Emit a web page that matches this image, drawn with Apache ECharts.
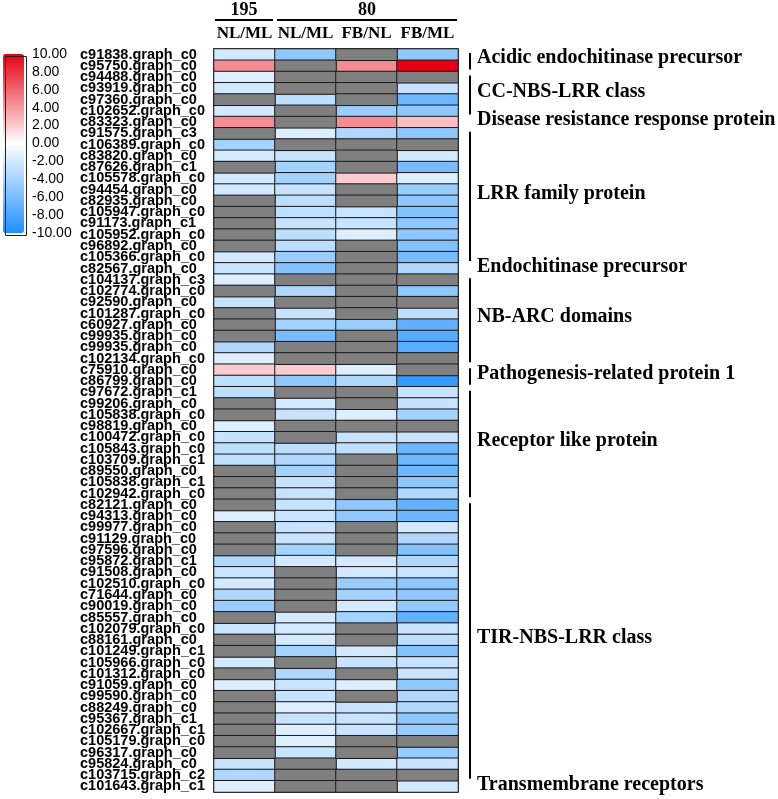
<!DOCTYPE html>
<html>
<head>
<meta charset="utf-8">
<script src="https://cdn.jsdelivr.net/npm/echarts@6/dist/echarts.min.js"></script>
<style>
  html, body { margin: 0; padding: 0; background: #fff; }
  #chart { width: 778px; height: 799px; }
</style>
</head>
<body>
<div id="chart"></div>
<script>
// gene ids, top to bottom
const genes = [
  'c91838.graph_c0', 'c95750.graph_c0', 'c94488.graph_c0', 'c93919.graph_c0', 'c97360.graph_c0',
  'c102652.graph_c0', 'c83323.graph_c0', 'c91575.graph_c3', 'c106389.graph_c0', 'c83820.graph_c0',
  'c87626.graph_c1', 'c105578.graph_c0', 'c94454.graph_c0', 'c82935.graph_c0', 'c105947.graph_c0',
  'c91173.graph_c1', 'c105952.graph_c0', 'c96892.graph_c0', 'c105366.graph_c0', 'c82567.graph_c0',
  'c104137.graph_c3', 'c102774.graph_c0', 'c92590.graph_c0', 'c101287.graph_c0', 'c60927.graph_c0',
  'c99935.graph_c0', 'c99935.graph_c0', 'c102134.graph_c0', 'c75910.graph_c0', 'c86799.graph_c0',
  'c97672.graph_c1', 'c99206.graph_c0', 'c105838.graph_c0', 'c98819.graph_c0', 'c100472.graph_c0',
  'c105843.graph_c0', 'c103709.graph_c1', 'c89550.graph_c0', 'c105838.graph_c1', 'c102942.graph_c0',
  'c82121.graph_c0', 'c94313.graph_c0', 'c99977.graph_c0', 'c91129.graph_c0', 'c97596.graph_c0',
  'c95872.graph_c1', 'c91508.graph_c0', 'c102510.graph_c0', 'c71644.graph_c0', 'c90019.graph_c0',
  'c85557.graph_c0', 'c102079.graph_c0', 'c88161.graph_c0', 'c101249.graph_c1', 'c105966.graph_c0',
  'c101312.graph_c0', 'c91059.graph_c0', 'c99590.graph_c0', 'c88249.graph_c0', 'c95367.graph_c1',
  'c102667.graph_c1', 'c105179.graph_c0', 'c96317.graph_c0', 'c95824.graph_c0', 'c103715.graph_c2',
  'c101643.graph_c1'
];

const columns = ['195 NL/ML', '80 NL/ML', '80 FB/NL', '80 FB/ML'];

// log2 fold change per column, null = not detected (grey)
const v195NLML = [
  -2, 4.5, -1.5, -2, null, -2, 4.5, null, -4, -2,
  null, -2, -2, null, null, null, null, null, -2, -2.5,
  -1.5, null, -2.5, null, null, null, -3.5, -1.5, 2, -3,
  -3, null, null, -1.5, -2.5, -3, -3, null, null, null,
  null, -1.5, null, null, null, -3.5, -2.5, -2, -3.5, -4.5,
  null, -2.5, null, null, -2, null, -1.5, null, null, null,
  null, null, null, -2.5, -3.5, -1.5
];
const v80NLML = [
  -5, null, null, null, -3, null, null, -1.5, null, -2.5,
  -4, -4, -2.5, -3, -3, -2.5, -3, -3, -4.5, -5.5,
  null, -3.5, null, -2.5, -4, -6, null, null, 2, -5,
  null, -2, -2.5, null, null, -3, -3.5, -4, -2.5, -2.5,
  -2.5, -2.5, -2.5, -2.5, -4, -2, null, null, null, null,
  -2, -2, -2, -4, null, -3.5, -2.5, -2.5, -1.5, -2.5,
  -1.5, -1.5, -2.5, null, null, null
];
const v80FBNL = [
  null, 4.5, null, null, null, -4.5, 4.5, -3.5, null, null,
  null, 2, null, null, -2.5, -2.5, -1.5, null, null, null,
  null, null, null, null, -4.5, null, null, null, -1.5, -3.5,
  null, null, -1.5, null, -2.5, -3, null, null, null, null,
  -5, -5, null, null, null, -2, -2, -4.5, -4, -2,
  -4, null, null, -2, -2.5, null, -1.5, null, -2.5, -2.5,
  -2.5, null, null, -2, null, null
];
const v80FBML = [
  -5, 10, null, -2.5, -6.5, -5, 2.5, -5, null, -2,
  -6, -1.5, -4.5, -5, -5.5, -5, -5, -5.5, -6, -3.5,
  null, -5, null, -3, -7, -7.5, -7.5, null, null, -9,
  -2.5, -2.5, -4, null, -2.5, -6.5, -6.5, -6.5, -5, -3.5,
  -7, -6.5, -2, -3.5, -5.5, -3.5, -2.5, -5, -5, -5,
  -7, -2.5, -3, -5.5, -2.5, -2.5, -5, -3.5, -3.5, -5,
  -4.5, null, -4.5, -2.5, null, -2
];

// column group headers
const headerNames = ['195', '80'];
const headerFrom = [0, 1];
const headerTo = [0, 3];

// gene family brackets on the right (row ranges)
const groupNames = [
  'Acidic endochitinase precursor', 'CC-NBS-LRR class', 'Disease resistance response protein',
  'LRR family protein', 'Endochitinase precursor', 'NB-ARC domains', 'Pathogenesis-related protein 1',
  'Receptor like protein', 'TIR-NBS-LRR class', 'Transmembrane receptors'
];
const groupStart = [0, 2, 6, 7, 19, 20, 28, 30, 40, 65];
const groupEnd = [1, 5, 6, 18, 19, 27, 29, 39, 64, 65];

const scaleColors = ['#1E90FF', '#FFFFFF', '#E60012'];

const allCols = [v195NLML, v80NLML, v80FBNL, v80FBML];
const cellData = [];
const naData = [];
allCols.forEach((col, ci) => {
  col.forEach((v, ri) => {
    if (v === null) naData.push([ci, ri, 0]);
    else cellData.push([ci, ri, v]);
  });
});

const chart = echarts.init(document.getElementById('chart'));

const option = {
  backgroundColor: '#fff',
  animation: false,
  grid: [
    { left: 214, top: 49, width: 244, height: 743, show: true, borderColor: '#111', borderWidth: 1.5, backgroundColor: 'transparent' },
    { left: 3, top: 54, width: 21, height: 179 }
  ],
  xAxis: [
    {
      type: 'category',
      data: columns,
      position: 'top',
      axisLine: { show: false },
      axisTick: { show: false },
      splitLine: { show: false },
      axisLabel: {
        interval: 0,
        hideOverlap: false,
        margin: 7,
        formatter: (v) => v.split(' ')[1],
        fontFamily: 'Liberation Serif',
        fontWeight: 'bold',
        fontSize: 17,
        color: '#000'
      }
    },
    { type: 'value', gridIndex: 1, show: false, min: 0, max: 1 }
  ],
  yAxis: [
    {
      type: 'category',
      data: genes,
      inverse: true,
      axisLine: { show: false },
      axisTick: { show: false },
      axisLabel: {
        interval: 0,
        margin: 134,
        align: 'left',
        fontFamily: 'Liberation Sans',
        fontWeight: 'bold',
        fontSize: 14.5,
        color: '#000'
      }
    },
    {
      type: 'value',
      gridIndex: 1,
      min: -10,
      max: 10,
      interval: 2,
      position: 'right',
      axisLine: { show: false },
      axisTick: { show: false },
      splitLine: { show: false },
      axisLabel: {
        margin: 8,
        formatter: (v) => v.toFixed(2),
        fontFamily: 'Liberation Sans',
        fontSize: 14,
        color: '#000'
      }
    }
  ],
  visualMap: {
    type: 'continuous',
    min: -10,
    max: 10,
    seriesIndex: 0,
    left: 3,
    top: 54,
    itemWidth: 21,
    itemHeight: 179,
    padding: 0,
    calculable: false,
    hoverLink: false,
    inRange: { color: scaleColors }
  },
  graphic: [
    {
      type: 'rect',
      left: 3,
      top: 54,
      z: 100,
      shape: { width: 21, height: 179 },
      style: { fill: 'none', stroke: '#222', lineWidth: 1 }
    }
  ],
  series: [
    {
      type: 'heatmap',
      data: cellData,
      itemStyle: { borderColor: '#1a1a1a', borderWidth: 1 },
      emphasis: { disabled: true }
    },
    {
      type: 'heatmap',
      data: naData,
      itemStyle: { color: '#808080', borderColor: '#1a1a1a', borderWidth: 1 },
      emphasis: { disabled: true }
    },
    {
      // column group headers above the heatmap
      type: 'custom',
      clip: false,
      silent: true,
      data: headerNames.map((n, i) => [headerFrom[i], 0, headerTo[i]]),
      encode: { x: 0, y: 1 },
      renderItem: function (params, api) {
        const size = api.size([1, 1]);
        const p0 = api.coord([api.value(0), 0]);
        const p1 = api.coord([api.value(2), 0]);
        const left = p0[0] - size[0] / 2 + (params.dataIndex === 0 ? 1 : 2);
        const right = p1[0] + size[0] / 2 - (params.dataIndex === 0 ? 2 : 1);
        const top = p0[1] - size[1] / 2;
        return {
          type: 'group',
          children: [
            { type: 'rect', shape: { x: left, y: top - 30, width: right - left, height: 2 }, style: { fill: '#000' } },
            {
              type: 'text',
              style: {
                text: headerNames[params.dataIndex],
                x: (left + right) / 2,
                y: top - 39,
                align: 'center',
                verticalAlign: 'middle',
                font: 'bold 18px "Liberation Serif"',
                fill: '#000'
              }
            }
          ]
        };
      }
    },
    {
      // gene family brackets to the right
      type: 'custom',
      clip: false,
      silent: true,
      data: groupNames.map((n, i) => [3, groupStart[i], groupEnd[i]]),
      encode: { x: 0, y: 1 },
      renderItem: function (params, api) {
        const size = api.size([1, 1]);
        const s = api.coord([3, api.value(1)]);
        const e = api.coord([3, api.value(2)]);
        const top = s[1] - size[1] / 2;
        const bot = e[1] + size[1] / 2;
        const xr = s[0] + size[0] / 2;
        const children = [];
        if (api.value(2) > api.value(1)) {
          children.push({
            type: 'rect',
            shape: { x: xr + 11, y: top + 4, width: 2, height: bot - top - 6 },
            style: { fill: '#000' }
          });
        }
        children.push({
          type: 'text',
          style: {
            text: groupNames[params.dataIndex],
            x: xr + 19,
            y: (top + bot) / 2 - 2,
            verticalAlign: 'middle',
            font: 'bold 20px "Liberation Serif"',
            fill: '#000'
          }
        });
        return { type: 'group', children: children };
      }
    }
  ]
};

chart.setOption(option);
</script>
</body>
</html>
